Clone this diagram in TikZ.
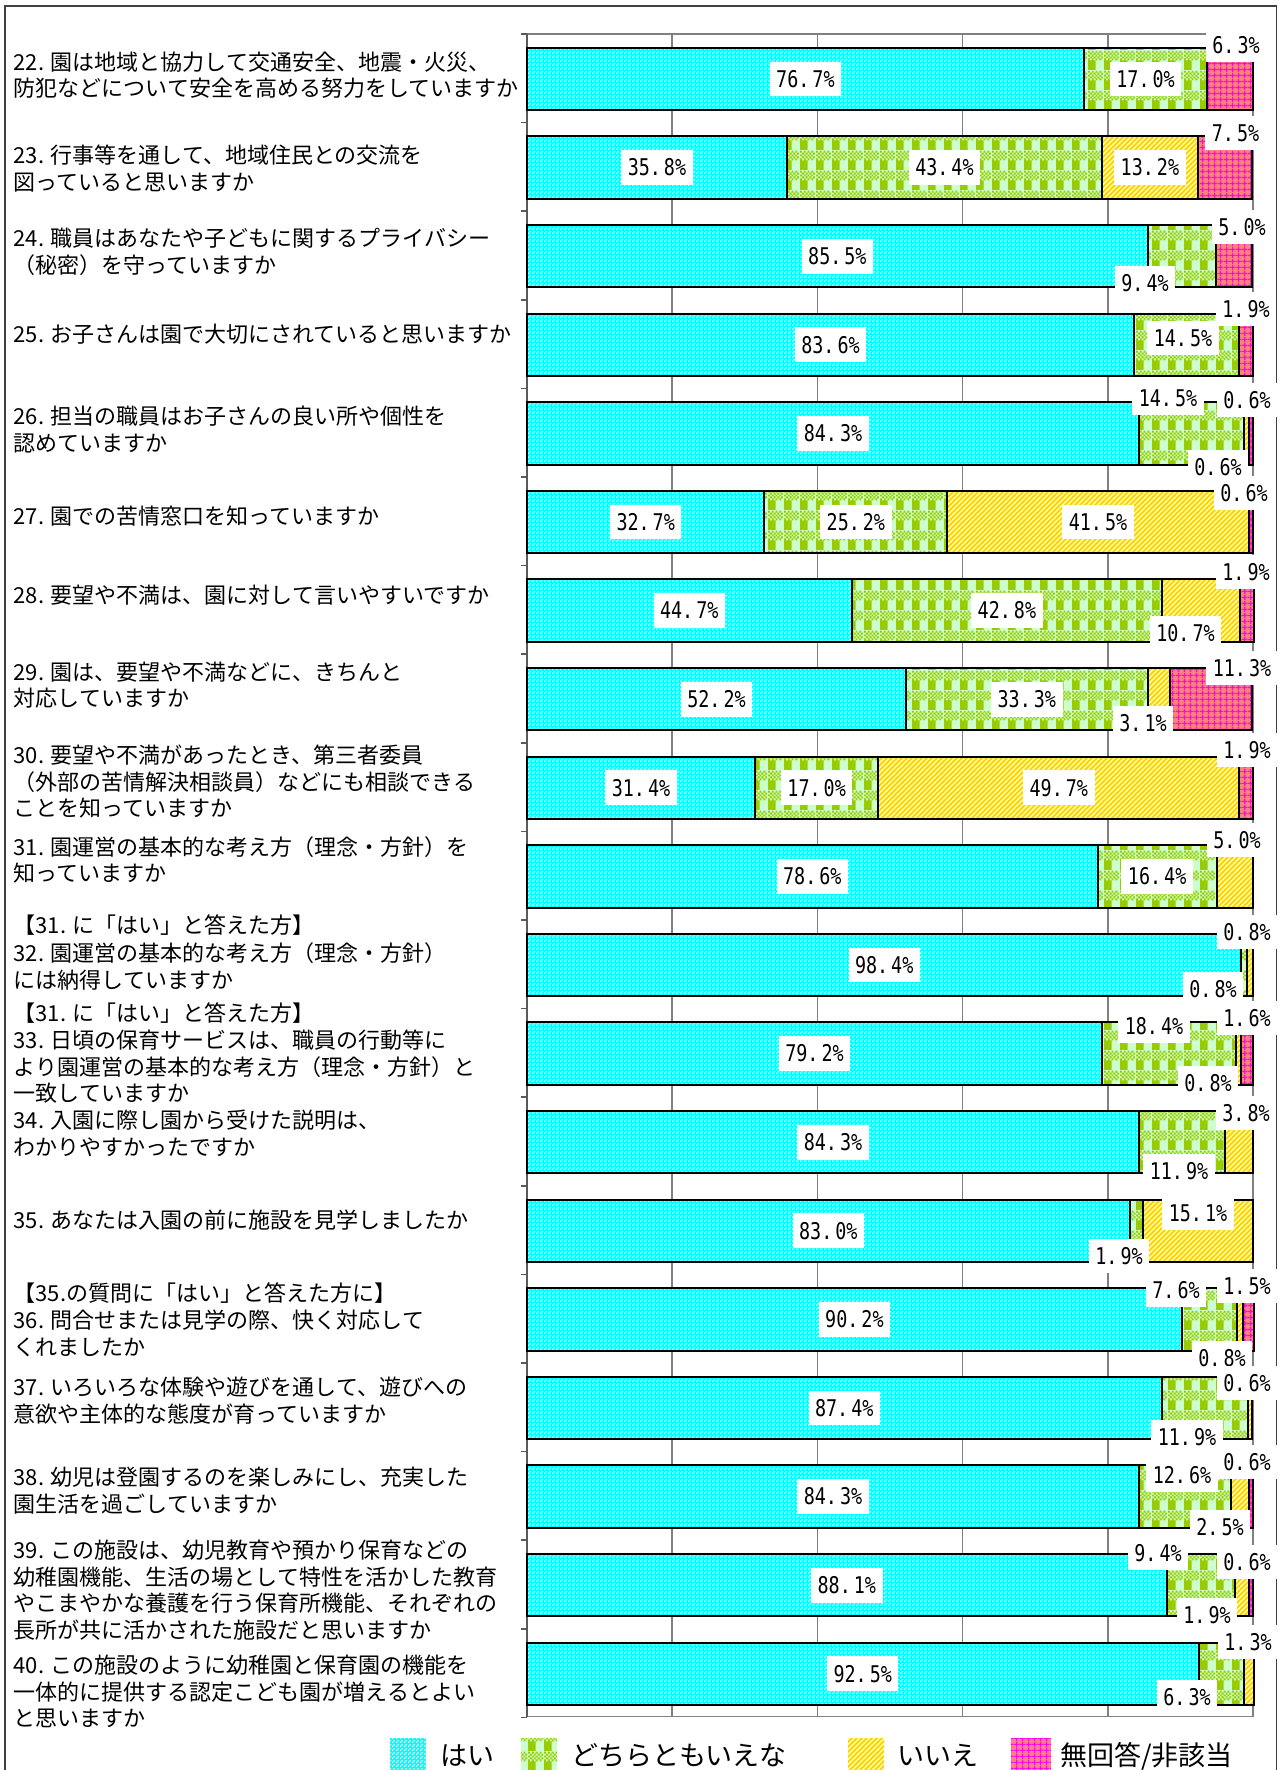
\documentclass[tikz,border=0pt]{standalone}
\usepackage{fontspec}
\usetikzlibrary{patterns}
\newfontfamily\jp{Noto Sans CJK JP}
\newfontfamily\pctf[FakeStretch=0.8]{DejaVu Sans Mono}
\definecolor{cyanbg}{HTML}{00FFFF}
\definecolor{greenbg}{HTML}{CCFFCC}
\definecolor{greenfg}{HTML}{99CC00}
\definecolor{yellowbg}{HTML}{FFFF99}
\definecolor{yellowfg}{HTML}{FFCC00}
\definecolor{pinkbg}{HTML}{FF8080}
\definecolor{pinkfg}{HTML}{FF00FF}
\definecolor{gridgray}{HTML}{808080}
\definecolor{framegray}{HTML}{404040}

\newcommand{\sqr}[2]{\pgfpathrectangle{\pgfqpoint{#1pt}{#2pt}}{\pgfqpoint{2pt}{2pt}}}
\newcommand{\pv}[2]{#1.\kern3pt#2\%}

\pgfdeclarepatternformonly{haiP}{\pgfqpoint{0pt}{0pt}}{\pgfqpoint{4pt}{4pt}}{\pgfqpoint{4pt}{4pt}}{%
  \pgfpathrectangle{\pgfqpoint{0pt}{0pt}}{\pgfqpoint{1.6pt}{1.6pt}}%
  \pgfpathrectangle{\pgfqpoint{2pt}{2pt}}{\pgfqpoint{1.6pt}{1.6pt}}%
  \pgfusepath{fill}}

\pgfdeclarepatternformonly{dochiP}{\pgfqpoint{0pt}{0pt}}{\pgfqpoint{16pt}{20pt}}{\pgfqpoint{16pt}{20pt}}{%
  \pgfpathrectangle{\pgfqpoint{0pt}{0pt}}{\pgfqpoint{8pt}{10pt}}%
  \sqr{0}{10}\sqr{4}{10}\sqr{8}{10}\sqr{12}{10}%
  \sqr{2}{12}\sqr{6}{12}\sqr{10}{12}\sqr{14}{12}%
  \sqr{0}{14}\sqr{4}{14}\sqr{8}{14}\sqr{12}{14}%
  \sqr{2}{16}\sqr{6}{16}\sqr{10}{16}\sqr{14}{16}%
  \sqr{0}{18}\sqr{4}{18}\sqr{8}{18}\sqr{12}{18}%
  \pgfusepath{fill}}

\pgfdeclarepatternformonly{iieP}{\pgfqpoint{-1pt}{-1pt}}{\pgfqpoint{6pt}{6pt}}{\pgfqpoint{5pt}{5pt}}{%
  \pgfsetlinewidth{1.5pt}%
  \pgfpathmoveto{\pgfqpoint{0pt}{0pt}}\pgfpathlineto{\pgfqpoint{5.1pt}{5.1pt}}%
  \pgfusepath{stroke}}

\pgfdeclarepatternformonly{naP}{\pgfqpoint{0pt}{0pt}}{\pgfqpoint{6pt}{6pt}}{\pgfqpoint{6pt}{6pt}}{%
  \pgfsetlinewidth{1.4pt}%
  \pgfpathmoveto{\pgfqpoint{3pt}{0pt}}\pgfpathlineto{\pgfqpoint{3pt}{6pt}}%
  \pgfpathmoveto{\pgfqpoint{0pt}{3pt}}\pgfpathlineto{\pgfqpoint{6pt}{3pt}}%
  \pgfusepath{stroke}}

\tikzset{
  fillA/.style={preaction={fill=cyanbg}, pattern=haiP, pattern color=white},
  fillB/.style={preaction={fill=greenbg}, pattern=dochiP, pattern color=greenfg},
  fillC/.style={preaction={fill=yellowbg}, pattern=iieP, pattern color=yellowfg},
  fillD/.style={preaction={fill=pinkbg}, pattern=naP, pattern color=pinkfg},
  segline/.style={draw=black, line width=2pt},
  segA/.style={fillA, segline},
  segB/.style={fillB, segline},
  segC/.style={fillC, segline},
  segD/.style={fillD, segline},
  pctlab/.style={fill=white, font=\pctf\fontsize{23}{23}\selectfont, inner xsep=6.5pt, inner ysep=9pt, text height=16.8pt, text depth=0pt},
  qtext/.style={anchor=base west, font=\jp\fontsize{22}{26.7}\selectfont, inner sep=0pt},
  legtext/.style={anchor=base west, font=\jp\fontsize{27}{30}\selectfont, inner sep=0pt},
  gridline/.style={draw=gridgray, line width=1.5pt},
  axisline/.style={draw=gridgray!70!black, line width=1.5pt},
  framebox/.style={draw=framegray, line width=1.5pt}
}

\newcommand{\chartrow}[5]{%
  \pgfmathsetmacro{\yt}{47.7+88.6*(#1-22)}%
  \pgfmathsetmacro{\yb}{\yt+62.5}%
  \pgfmathsetmacro{\ym}{\yt+31.25}%
  \pgfmathsetmacro{\xb}{527+7.26*#2}%
  \pgfmathsetmacro{\xc}{\xb+7.26*#3}%
  \pgfmathsetmacro{\xd}{\xc+7.26*#4}%
  \pgfmathsetmacro{\xe}{\xd+7.26*#5}%
  \path[segA] (527,\yt) rectangle (\xb,\yb);
  \path[segB] (\xb,\yt) rectangle (\xc,\yb);
  \path[segC] (\xc,\yt) rectangle (\xd,\yb);
  \path[segD] (\xd,\yt) rectangle (\xe,\yb);
  \coordinate (c#1a) at ({(527+\xb)/2},\ym);
  \coordinate (c#1b) at ({(\xb+\xc)/2},\ym);
  \coordinate (c#1c) at ({(\xc+\xd)/2},\ym);
}

\begin{document}
\begin{tikzpicture}[x=1pt,y=-1pt]
\useasboundingbox (0,0) rectangle (1279,1770);
\fill[white] (0,0) rectangle (1279,1770);
\draw[framebox] (5,6) rectangle (1276.5,1800);

% plot area
\foreach \g in {20,40,60,80} \draw[gridline] ({527+7.26*\g},34) -- ({527+7.26*\g},1716.7);
\draw[gridline] (527,34) -- (1253,34) -- (1253,1716.7) -- (527,1716.7);
\draw[axisline] (527,34) -- (527,1716.7);
\foreach \k in {0,...,19} \draw[axisline] (521,{34+88.6*\k}) -- (527,{34+88.6*\k});

% bars
\chartrow{22}{76.7}{17.0}{0}{6.3}
\chartrow{23}{35.8}{43.4}{13.2}{7.5}
\chartrow{24}{85.5}{9.4}{0}{5.0}
\chartrow{25}{83.6}{14.5}{0}{1.9}
\chartrow{26}{84.3}{14.5}{0.6}{0.6}
\chartrow{27}{32.7}{25.2}{41.5}{0.6}
\chartrow{28}{44.7}{42.8}{10.7}{1.9}
\chartrow{29}{52.2}{33.3}{3.1}{11.3}
\chartrow{30}{31.4}{17.0}{49.7}{1.9}
\chartrow{31}{78.6}{16.4}{5.0}{0}
\chartrow{32}{98.4}{0.8}{0.8}{0}
\chartrow{33}{79.2}{18.4}{0.8}{1.6}
\chartrow{34}{84.3}{11.9}{3.8}{0}
\chartrow{35}{83.0}{1.9}{15.1}{0}
\chartrow{36}{90.2}{7.6}{0.8}{1.5}
\chartrow{37}{87.4}{11.9}{0.6}{0}
\chartrow{38}{84.3}{12.6}{2.5}{0.6}
\chartrow{39}{88.1}{9.4}{1.9}{0.6}
\chartrow{40}{92.5}{6.3}{1.3}{0}

% inner labels
\node[pctlab] (l22a) at (c22a) {\pv{76}{7}};
\node[pctlab] (l22b) at (c22b) {\pv{17}{0}};
\node[pctlab] (l23a) at (c23a) {\pv{35}{8}};
\node[pctlab] (l23b) at (c23b) {\pv{43}{4}};
\node[pctlab] (l23c) at (c23c) {\pv{13}{2}};
\node[pctlab] (l24a) at (c24a) {\pv{85}{5}};
\node[pctlab] (l25a) at (c25a) {\pv{83}{6}};
\node[pctlab] (l26a) at (c26a) {\pv{84}{3}};
\node[pctlab] (l27a) at (c27a) {\pv{32}{7}};
\node[pctlab] (l27b) at (c27b) {\pv{25}{2}};
\node[pctlab] (l27c) at (c27c) {\pv{41}{5}};
\node[pctlab] (l28a) at (c28a) {\pv{44}{7}};
\node[pctlab] (l28b) at (c28b) {\pv{42}{8}};
\node[pctlab] (l29a) at (c29a) {\pv{52}{2}};
\node[pctlab] (l29b) at (c29b) {\pv{33}{3}};
\node[pctlab] (l30a) at (c30a) {\pv{31}{4}};
\node[pctlab] (l30b) at (c30b) {\pv{17}{0}};
\node[pctlab] (l30c) at (c30c) {\pv{49}{7}};
\node[pctlab] (l31a) at (c31a) {\pv{78}{6}};
\node[pctlab] (l31b) at (c31b) {\pv{16}{4}};
\node[pctlab] (l32a) at (c32a) {\pv{98}{4}};
\node[pctlab] (l33a) at (c33a) {\pv{79}{2}};
\node[pctlab] (l34a) at (c34a) {\pv{84}{3}};
\node[pctlab] (l35a) at (c35a) {\pv{83}{0}};
\node[pctlab] (l36a) at (c36a) {\pv{90}{2}};
\node[pctlab] (l37a) at (c37a) {\pv{87}{4}};
\node[pctlab] (l38a) at (c38a) {\pv{84}{3}};
\node[pctlab] (l39a) at (c39a) {\pv{88}{1}};
\node[pctlab] (l40a) at (c40a) {\pv{92}{5}};

% outside labels
\node[pctlab] (l22d) at (1236,45) {\pv{6}{3}};
\node[pctlab] (l23d) at (1235.5,133) {\pv{7}{5}};
\node[pctlab] (l24d) at (1242,227) {\pv{5}{0}};
\node[pctlab] (l24b) at (1145,283) {\pv{9}{4}};
\node[pctlab] (l25d) at (1246,309) {\pv{1}{9}};
\node[pctlab] (l25b) at (1183,338) {\pv{14}{5}};
\node[pctlab] (l26b) at (1168,398) {\pv{14}{5}};
\node[pctlab] (l26d) at (1247,400) {\pv{0}{6}};
\node[pctlab] (l26c) at (1218,467) {\pv{0}{6}};
\node[pctlab] (l27d) at (1244,493) {\pv{0}{6}};
\node[pctlab] (l28d) at (1246,572) {\pv{1}{9}};
\node[pctlab] (l28c) at (1185.5,633) {\pv{10}{7}};
\node[pctlab] (l29d) at (1242,668) {\pv{11}{3}};
\node[pctlab] (l29c) at (1143,723) {\pv{3}{1}};
\node[pctlab] (l30d) at (1247,750) {\pv{1}{9}};
\node[pctlab] (l31c) at (1237,840) {\pv{5}{0}};
\node[pctlab] (l32c) at (1247,932) {\pv{0}{8}};
\node[pctlab] (l32b) at (1213,989) {\pv{0}{8}};
\node[pctlab] (l33d) at (1247,1018) {\pv{1}{6}};
\node[pctlab] (l33b) at (1154,1026) {\pv{18}{4}};
\node[pctlab] (l33c) at (1208,1083) {\pv{0}{8}};
\node[pctlab] (l34c) at (1246,1113) {\pv{3}{8}};
\node[pctlab] (l34b) at (1179,1171) {\pv{11}{9}};
\node[pctlab] (l35c) at (1198,1213) {\pv{15}{1}};
\node[pctlab] (l35b) at (1119,1256) {\pv{1}{9}};
\node[pctlab] (l36d) at (1247,1286) {\pv{1}{5}};
\node[pctlab] (l36b) at (1176,1290) {\pv{7}{6}};
\node[pctlab] (l36c) at (1222,1358) {\pv{0}{8}};
\node[pctlab] (l37c) at (1247,1383) {\pv{0}{6}};
\node[pctlab] (l37b) at (1187,1437) {\pv{11}{9}};
\node[pctlab] (l38d) at (1247,1462) {\pv{0}{6}};
\node[pctlab] (l38b) at (1182,1475) {\pv{12}{6}};
\node[pctlab] (l38c) at (1220,1527) {\pv{2}{5}};
\node[pctlab] (l39b) at (1158,1553) {\pv{9}{4}};
\node[pctlab] (l39d) at (1247,1562) {\pv{0}{6}};
\node[pctlab] (l39c) at (1207,1615) {\pv{1}{9}};
\node[pctlab] (l40c) at (1248,1642) {\pv{1}{3}};
\node[pctlab] (l40b) at (1187,1697) {\pv{6}{3}};

% question texts (baseline = visual centre + 8.3)
\node[qtext] (q22a) at (13.5,70) {22. 園は地域と協力して交通安全、地震・火災、};
\node[qtext] (q22b) at (13.5,96.6) {防犯などについて安全を高める努力をしていますか};
\node[qtext] (q23a) at (13.5,163.3) {23. 行事等を通して、地域住民との交流を};
\node[qtext] (q23b) at (13.5,190) {図っていると思いますか};
\node[qtext] (q24a) at (13.5,246.6) {24. 職員はあなたや子どもに関するプライバシー};
\node[qtext] (q24b) at (13.5,273.3) {（秘密）を守っていますか};
\node[qtext] (q25a) at (13.5,342.3) {25. お子さんは園で大切にされていると思いますか};
\node[qtext] (q26a) at (13.5,424.8) {26. 担当の職員はお子さんの良い所や個性を};
\node[qtext] (q26b) at (13.5,451.3) {認めていますか};
\node[qtext] (q27a) at (13.5,524.3) {27. 園での苦情窓口を知っていますか};
\node[qtext] (q28a) at (13.5,603.3) {28. 要望や不満は、園に対して言いやすいですか};
\node[qtext] (q29a) at (13.5,680) {29. 園は、要望や不満などに、きちんと};
\node[qtext] (q29b) at (13.5,706.6) {対応していますか};
\node[qtext] (q30a) at (13.5,763.3) {30. 要望や不満があったとき、第三者委員};
\node[qtext] (q30b) at (13.5,790) {（外部の苦情解決相談員）などにも相談できる};
\node[qtext] (q30c) at (13.5,816.6) {ことを知っていますか};
\node[qtext] (q31a) at (13.5,855) {31. 園運営の基本的な考え方（理念・方針）を};
\node[qtext] (q31b) at (13.5,881.6) {知っていますか};
\node[qtext] (q32a) at (13.5,933.3) {【31. に「はい」と答えた方】};
\node[qtext] (q32b) at (13.5,961.6) {32. 園運営の基本的な考え方（理念・方針）};
\node[qtext] (q32c) at (13.5,988.3) {には納得していますか};
\node[qtext] (q33a) at (13.5,1021.6) {【31. に「はい」と答えた方】};
\node[qtext] (q33b) at (13.5,1048.3) {33. 日頃の保育サービスは、職員の行動等に};
\node[qtext] (q33c) at (13.5,1075) {より園運営の基本的な考え方（理念・方針）と};
\node[qtext] (q33d) at (13.5,1101.6) {一致していますか};
\node[qtext] (q34a) at (13.5,1128.3) {34. 入園に際し園から受けた説明は、};
\node[qtext] (q34b) at (13.5,1155) {わかりやすかったですか};
\node[qtext] (q35a) at (13.5,1228.3) {35. あなたは入園の前に施設を見学しましたか};
\node[qtext] (q36a) at (13.5,1301.6) {【35.の質問に「はい」と答えた方に】};
\node[qtext] (q36b) at (13.5,1328.3) {36. 問合せまたは見学の際、快く対応して};
\node[qtext] (q36c) at (13.5,1355) {くれましたか};
\node[qtext] (q37a) at (13.5,1395.3) {37. いろいろな体験や遊びを通して、遊びへの};
\node[qtext] (q37b) at (13.5,1422.3) {意欲や主体的な態度が育っていますか};
\node[qtext] (q38a) at (13.5,1485.9) {38. 幼児は登園するのを楽しみにし、充実した};
\node[qtext] (q38b) at (13.5,1512.3) {園生活を過ごしていますか};
\node[qtext] (q39a) at (13.5,1558.3) {39. この施設は、幼児教育や預かり保育などの};
\node[qtext] (q39b) at (13.5,1585) {幼稚園機能、生活の場として特性を活かした教育};
\node[qtext] (q39c) at (13.5,1611.6) {やこまやかな養護を行う保育所機能、それぞれの};
\node[qtext] (q39d) at (13.5,1638.3) {長所が共に活かされた施設だと思いますか};
\node[qtext] (q40a) at (13.5,1673.3) {40. この施設のように幼稚園と保育園の機能を};
\node[qtext] (q40b) at (13.5,1700) {一体的に提供する認定こども園が増えるとよい};
\node[qtext] (q40c) at (13.5,1726.6) {と思いますか};

% legend
\path[fillA] (390,1738) rectangle (426,1772);
\node[legtext] (lgA) at (440,1765.3) {はい};
\path[fillB] (521,1738) rectangle (557,1772);
\node[legtext] (lgB) at (571,1765.3) {どちらともいえな};
\path[fillC] (848,1738) rectangle (884,1772);
\node[legtext] (lgC) at (897,1765.3) {いいえ};
\path[fillD] (1011,1738) rectangle (1051,1772);
\node[legtext] (lgD) at (1060,1765.3) {無回答/非該当};
\end{tikzpicture}
\end{document}
